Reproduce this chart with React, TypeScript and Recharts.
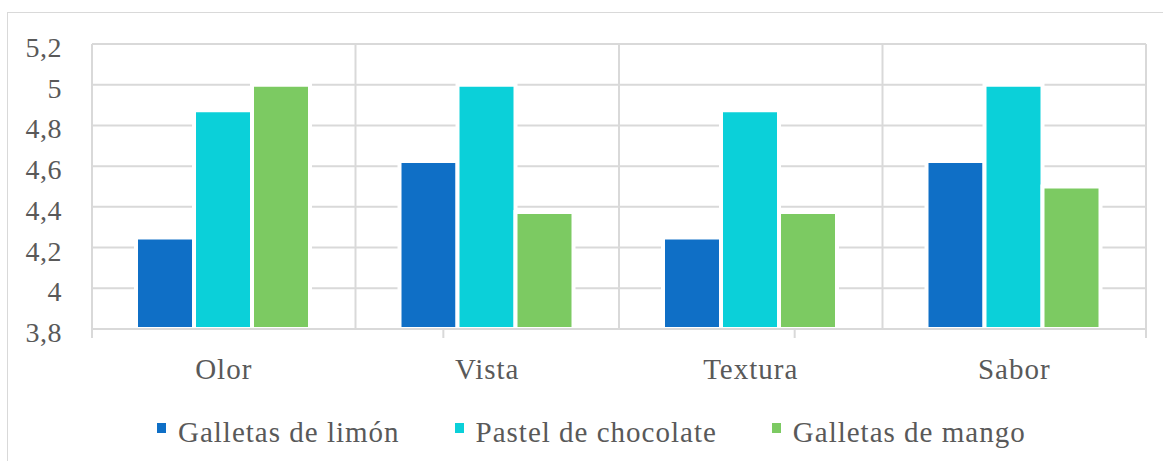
import React from 'react';
import { BarChart, Bar, XAxis, YAxis, CartesianGrid } from 'recharts';

// valores (promedios de evaluación sensorial)
const categories = ['Olor', 'Vista', 'Textura', 'Sabor'];
const galletasLimon = [4.25, 4.625, 4.25, 4.625];
const pastelChocolate = [4.875, 5, 4.875, 5];
const galletasMango = [5, 4.375, 4.375, 4.5];

const seriesNames = ['Galletas de limón', 'Pastel de chocolate', 'Galletas de mango'];
const seriesKeys = ['limon', 'chocolate', 'mango'];
const seriesColors = ['#0F6FC6', '#0BD0D9', '#7CCA62'];

const yTicks = [3.8, 4, 4.2, 4.4, 4.6, 4.8, 5, 5.2];
const boundaryTicks = [0, 1, 2, 3, 4];

const data = categories.map((name, i) => ({
  name,
  limon: galletasLimon[i],
  chocolate: pastelChocolate[i],
  mango: galletasMango[i],
}));

const FONT = '"Liberation Serif", "Times New Roman", serif';
const TEXT = '#595959';
const GRID = '#d9d9d9';

const formatTick = (v: number) => String(Math.round(v * 10) / 10).replace('.', ',');

// líneas verticales en los límites entre categorías
const boundaryLines = ({ offset }: any) =>
  boundaryTicks.map((t) => offset.left + (offset.width * t) / categories.length);

export default function App() {
  return (
    <div
      style={{
        position: 'absolute',
        left: 0,
        top: 0,
        width: 1163,
        height: 461,
        overflow: 'hidden',
        background: '#fff',
        fontFamily: FONT,
      }}
    >
      {/* marco del área del gráfico */}
      <div
        style={{
          position: 'absolute',
          left: 7,
          top: 12,
          width: 1163,
          height: 461,
          borderTop: `1.5px solid ${GRID}`,
          borderLeft: `1.5px solid ${GRID}`,
        }}
      />

      <div style={{ position: 'absolute', left: 0, top: 0 }}>
        <BarChart
          width={1163}
          height={461}
          data={data}
          margin={{ top: 44, right: 17, bottom: 73, left: 0 }}
          barCategoryGap="16.7%"
          barGap={0}
        >
          <CartesianGrid
            stroke={GRID}
            strokeWidth={2}
            verticalCoordinatesGenerator={boundaryLines}
          />
          <XAxis
            xAxisId="cat"
            dataKey="name"
            height={50}
            axisLine={false}
            tickLine={false}
            tickSize={0}
            tickMargin={20}
            tick={{ fontSize: 29, fill: TEXT, fontFamily: FONT, letterSpacing: 1 }}
          />
          <XAxis
            xAxisId="axis"
            type="number"
            domain={[0, 4]}
            allowDataOverflow
            ticks={boundaryTicks}
            interval={0}
            tick={() => <g />}
            height={9}
            tickSize={9}
            axisLine={{ stroke: GRID, strokeWidth: 2 }}
            tickLine={{ stroke: GRID, strokeWidth: 2 }}
          />
          <YAxis
            width={92}
            domain={[3.8, 5.2]}
            ticks={yTicks}
            allowDataOverflow
            axisLine={false}
            tickLine={false}
            tickSize={0}
            tickMargin={30}
            tickFormatter={formatTick}
            tick={{ fontSize: 28, fill: TEXT, fontFamily: FONT, dy: 3, letterSpacing: 0.5 }}
          />
          {seriesKeys.map((key, i) => (
            <Bar
              key={key}
              xAxisId="cat"
              dataKey={key}
              name={seriesNames[i]}
              fill={seriesColors[i]}
              stroke="#fff"
              strokeWidth={4}
              isAnimationActive={false}
            />
          ))}
        </BarChart>
      </div>

      {/* leyenda */}
      <div
        style={{
          position: 'absolute',
          left: 157,
          top: 416,
          display: 'flex',
          alignItems: 'flex-start',
          gap: 55,
          fontSize: 29,
          lineHeight: '32px',
          letterSpacing: 1,
          color: TEXT,
          whiteSpace: 'nowrap',
        }}
      >
        {seriesNames.map((name, i) => (
          <div key={name} style={{ display: 'flex', alignItems: 'flex-start' }}>
            <div
              style={{
                width: 9,
                height: 10,
                marginTop: 7,
                marginRight: 12,
                background: seriesColors[i],
              }}
            />
            <span>{name}</span>
          </div>
        ))}
      </div>
    </div>
  );
}
